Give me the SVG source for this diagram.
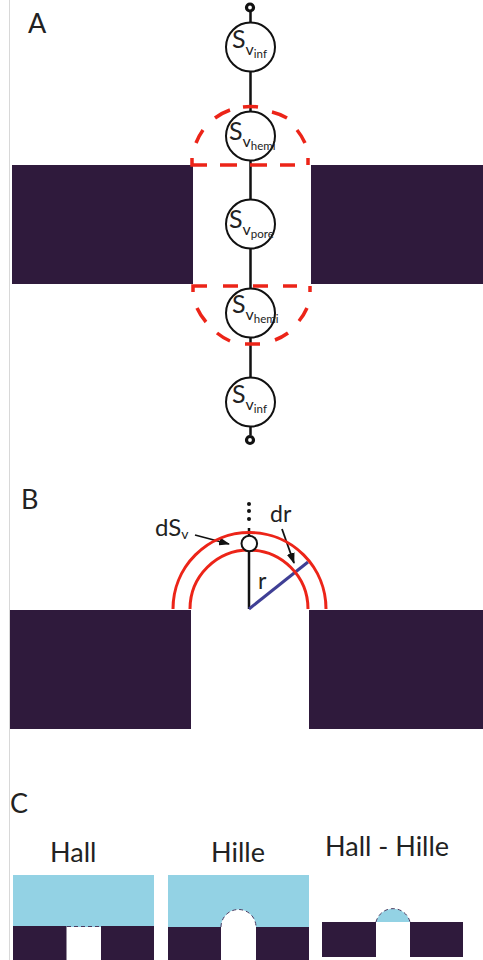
<svg xmlns="http://www.w3.org/2000/svg" width="483" height="960" viewBox="0 0 483 960">
<defs>
<marker id="arr" markerUnits="userSpaceOnUse" markerWidth="11" markerHeight="8" refX="10" refY="4" orient="auto"><path d="M0 0L11 4L0 8Z" fill="#111"/></marker>
</defs>
<style>
text{font-family:Lato,"Open Sans","Liberation Sans",sans-serif;fill:#222}
.pore{fill:#2f1a3c}
.wire{stroke:#111;stroke-width:2.500;fill:none}
.arrow{stroke:#111;stroke-width:1.800;fill:none;marker-end:url(#arr)}
.node{fill:#fff;stroke:#111;stroke-width:2}
.term{fill:#fff;stroke:#111;stroke-width:3.200}
.red{fill:none;stroke:#ec2418;stroke-width:3}
.dash{stroke-width:3.500}
.blue{fill:#93d2e4}
.thin{fill:none;stroke:#4a3a60;stroke-width:1;stroke-dasharray:4 3}
.sv{font-size:25px}.v{font-size:16px}.sub{font-size:11.500px}
.lab{font-size:27px}
</style>
<rect width="483" height="960" fill="#fff"/>
<rect x="9" y="0" width="1" height="960" fill="#d8d8d8"/>

<g id="walls-a"><rect class="pore" x="12" y="165" width="181" height="119"/><rect class="pore" x="311" y="165" width="172" height="119"/></g>
<g id="connectors">
<path class="wire" d="M250.500 12V23M250.500 72V112M250.500 161V200M250.500 249V289M250.500 338V378M250.500 427V435"/>
<path class="wire" d="M249 552V609M249 528V535"/>
<path d="M249 609L308 562" fill="none" stroke="#3f3f95" stroke-width="3"/>
<path class="arrow" d="M195 535L229 544"/>
<path class="arrow" d="M282 529L294 563"/>
</g>
<g id="hemi-top"><path class="red dash" d="M196 143A58 58 0 0 1 203 130M215 118A58 58 0 0 1 230 110M243 107A58 58 0 0 1 258 107M272 112A58 58 0 0 1 287 118M297 130A58 58 0 0 1 305 143M192 158V165H207M220 165H237M250 165H267M280 165H295M308 158V165"/></g>
<g id="hemi-bottom"><path class="red dash" d="M193 292V286H207M223 286H238M253 286H268M283 286H297M310 292V286M197 308A58 58 0 0 0 206 322M217 333A58 58 0 0 0 230 341M245 344H260M275 340A58 58 0 0 0 288 333M299 321A58 58 0 0 0 307 308"/></g>
<g id="term-top"><circle class="term" cx="250" cy="7.500" r="3.500"/></g>
<g id="sv-inf-top"><circle class="node" cx="250.500" cy="47" r="24.500"/><text x="232" y="48" class="sv">S<tspan class="v" dy="7">v</tspan><tspan class="sub" dy="3">inf</tspan></text></g>
<g id="sv-hemi-top"><circle class="node" cx="250.500" cy="136" r="24.500"/><text x="229" y="140" class="sv">S<tspan class="v" dy="7">v</tspan><tspan class="sub" dy="3">hemi</tspan></text></g>
<g id="sv-pore"><circle class="node" cx="250.500" cy="224" r="24.500"/><text x="229" y="228" class="sv">S<tspan class="v" dy="7">v</tspan><tspan class="sub" dy="3">pore</tspan></text></g>
<g id="sv-hemi-bottom"><circle class="node" cx="250.500" cy="313" r="24.500"/><text x="232" y="313" class="sv">S<tspan class="v" dy="7">v</tspan><tspan class="sub" dy="3">hemi</tspan></text></g>
<g id="sv-inf-bottom"><circle class="node" cx="250.500" cy="402" r="24.500"/><text x="232" y="403" class="sv">S<tspan class="v" dy="7">v</tspan><tspan class="sub" dy="3">inf</tspan></text></g>
<g id="term-bottom"><circle class="term" cx="250" cy="440" r="3.500"/></g>
<text x="28" y="33" class="lab">A</text>

<text x="21" y="509" class="lab">B</text>
<g id="walls-b"><rect class="pore" x="10" y="610" width="181" height="119"/><rect class="pore" x="309" y="610" width="174" height="119"/></g>
<g id="shells"><path class="red" d="M173 609A76.500 76.500 0 0 1 326 609"/><path class="red" d="M190 609A59 59 0 0 1 308 609"/></g>
<g id="dsv"><circle class="node" cx="249.300" cy="543.500" r="7.800"/>
<circle cx="249" cy="504" r="2" fill="#111"/><circle cx="249" cy="511" r="2" fill="#111"/><circle cx="249" cy="519" r="2" fill="#111"/></g>
<text x="155" y="536" style="font-size:24px">dS<tspan dy="3" style="font-size:14px">v</tspan></text>
<text x="270" y="522" style="font-size:23px">dr</text>
<text x="258" y="589" style="font-size:23px">r</text>

<text x="10" y="813" class="lab">C</text>
<text x="50" y="862" class="lab">Hall</text>
<text x="211" y="862" class="lab">Hille</text>
<text x="325" y="856" class="lab">Hall - Hille</text>
<g id="hall"><rect class="blue" x="13" y="875" width="141" height="52"/><rect class="pore" x="13" y="926" width="53.500" height="34"/><rect class="pore" x="101" y="926" width="53" height="34"/><path class="thin" d="M67 926.500H100"/></g>
<g id="hille"><rect class="blue" x="168" y="875" width="141" height="52"/><path d="M221 927A17.500 17.500 0 0 1 256 927Z" fill="#fff"/><rect class="pore" x="168" y="927" width="53" height="33"/><rect class="pore" x="256" y="927" width="53" height="33"/><path class="thin" d="M221 927A17.500 17.500 0 0 1 256 927"/></g>
<g id="hall-hille"><path class="blue" d="M376 922A17.500 17.500 0 0 1 410 922Z"/><path class="thin" d="M376 922A17.500 17.500 0 0 1 410 922"/><rect class="pore" x="322" y="922" width="54" height="35"/><rect class="pore" x="410" y="922" width="53" height="35"/></g>
</svg>
